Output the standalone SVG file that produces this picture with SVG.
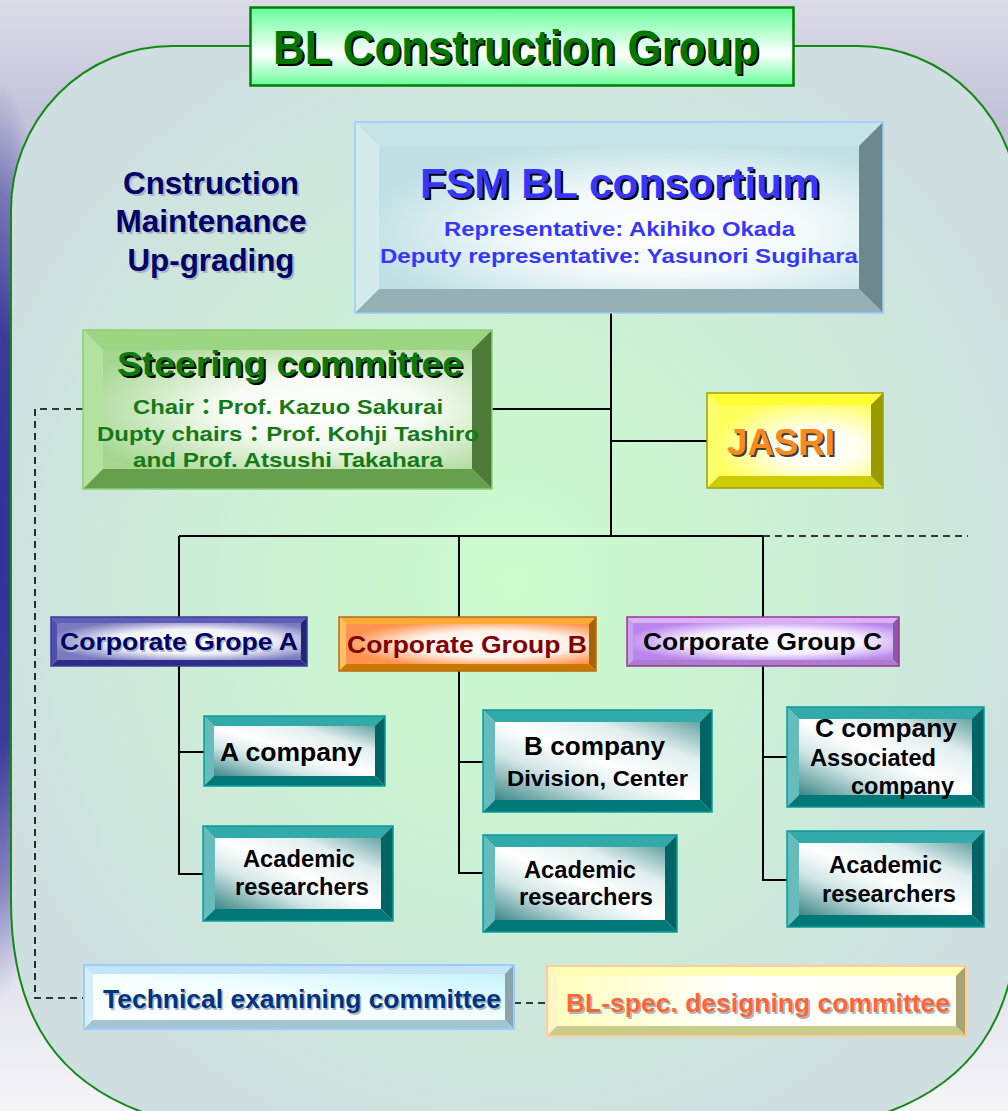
<svg xmlns="http://www.w3.org/2000/svg" width="1008" height="1111" viewBox="0 0 1008 1111">
  <defs>
    <style>
      text { font-family: "Liberation Sans", Arial, "Noto Sans CJK JP", sans-serif; font-weight: bold; }
      .narrow { font-family: "Liberation Sans Narrow", "Liberation Sans", Arial, sans-serif; }
      .mid { text-anchor: middle; }
      .shd { fill: #000; }
      .shl { fill: #a9b6c2; }
      .wire { fill: none; stroke: #000; stroke-width: 2; }
      .dash { fill: none; stroke: #000; stroke-width: 1.6; stroke-dasharray: 7 5; }
      .ol { fill: none; stroke-width: 1.5; }
      .fsm .bt { fill: #c6e3e7; } .fsm .bl { fill: #d4ebee; } .fsm .br { fill: #6e898d; } .fsm .bb { fill: #95b1b5; } .fsm .ol { stroke: #99ccff; }
      .steer .bt { fill: #9dd682; } .steer .bl { fill: #b3e2a0; } .steer .br { fill: #4d7a39; } .steer .bb { fill: #67a04d; } .steer .ol { stroke: #8ad07a; }
      .jasri .bt { fill: #ffff33; } .jasri .bl { fill: #ffff6a; } .jasri .br { fill: #999900; } .jasri .bb { fill: #cccc00; } .jasri .ol { stroke: #a0a000; }
      .grpA .bt { fill: #5e5eb6; } .grpA .bl { fill: #5050ac; } .grpA .br { fill: #24247a; } .grpA .bb { fill: #2d2d88; } .grpA .ol { stroke: #3b3b9e; }
      .grpB .bt { fill: #ffab35; } .grpB .bl { fill: #ffbf66; } .grpB .br { fill: #a86400; } .grpB .bb { fill: #cc7700; } .grpB .ol { stroke: #b96a10; }
      .grpC .bt { fill: #dcb0f5; } .grpC .bl { fill: #cda0ef; } .grpC .br { fill: #8a5aa2; } .grpC .bb { fill: #ab7dcd; } .grpC .ol { stroke: #993399; }
      .teal .bt { fill: #33aaaa; } .teal .bl { fill: #66bcbc; } .teal .br { fill: #006464; } .teal .bb { fill: #007878; } .teal .ol { stroke: #0a9a9a; }
      .tech .bt { fill: #c6e4f8; } .tech .bl { fill: #d6eefc; } .tech .br { fill: #8ca4ac; } .tech .bb { fill: #a4c4d2; } .tech .ol { stroke: #99ccff; stroke-width: 2; }
      .spec .bt { fill: #ffffb4; } .spec .bl { fill: #fff6c8; } .spec .br { fill: #aaa272; } .spec .bb { fill: #cccc8a; } .spec .ol { stroke: #ffcc99; stroke-width: 2; }
    </style>
    <linearGradient id="gPage" x1="0" y1="0" x2="0" y2="1">
      <stop offset="0" stop-color="#dcdce8"/>
      <stop offset="0.09" stop-color="#c6c6dc"/>
      <stop offset="0.2" stop-color="#b6b6d2"/>
      <stop offset="0.8" stop-color="#d8d8e8"/>
      <stop offset="1" stop-color="#f4f4f8"/>
    </linearGradient>
    <radialGradient id="gBlue">
      <stop offset="0" stop-color="#303098" stop-opacity="1"/>
      <stop offset="0.45" stop-color="#343499" stop-opacity="0.95"/>
      <stop offset="0.75" stop-color="#4a4aa4" stop-opacity="0.6"/>
      <stop offset="1" stop-color="#6060b0" stop-opacity="0"/>
    </radialGradient>
    <radialGradient id="gPanel" cx="0.5" cy="0.5" r="0.55">
      <stop offset="0" stop-color="#ccfbcc"/>
      <stop offset="0.4" stop-color="#cbf3d3"/>
      <stop offset="1" stop-color="#cfdfe1"/>
    </radialGradient>
    <linearGradient id="gTitle" x1="0" y1="0" x2="0" y2="1">
      <stop offset="0" stop-color="#66ff99"/>
      <stop offset="0.6" stop-color="#ffffff"/>
      <stop offset="1" stop-color="#66ff99"/>
    </linearGradient>
    <radialGradient id="gFsmFace" cx="0.6" cy="0.6" r="0.65">
      <stop offset="0" stop-color="#ffffff"/>
      <stop offset="0.45" stop-color="#f4fafb"/>
      <stop offset="1" stop-color="#bfe0e4"/>
    </radialGradient>
    <radialGradient id="gSteerFace" cx="0.6" cy="0.5" r="0.7">
      <stop offset="0" stop-color="#ffffff"/>
      <stop offset="0.4" stop-color="#f6fbf3"/>
      <stop offset="1" stop-color="#a4d690"/>
    </radialGradient>
    <radialGradient id="gJasriFace" cx="0.65" cy="0.6" r="0.7">
      <stop offset="0" stop-color="#ffffff"/>
      <stop offset="0.4" stop-color="#ffffee"/>
      <stop offset="1" stop-color="#ffff5a"/>
    </radialGradient>
    <radialGradient id="gAFace" cx="0.55" cy="0.5" r="0.6">
      <stop offset="0" stop-color="#ffffff"/>
      <stop offset="0.55" stop-color="#f2f2fa"/>
      <stop offset="1" stop-color="#7a7abf"/>
    </radialGradient>
    <radialGradient id="gBFace" cx="0.6" cy="0.5" r="0.6">
      <stop offset="0" stop-color="#ffffff"/>
      <stop offset="0.55" stop-color="#fff2ea"/>
      <stop offset="1" stop-color="#ff9450"/>
    </radialGradient>
    <radialGradient id="gCFace" cx="0.55" cy="0.5" r="0.6">
      <stop offset="0" stop-color="#ffffff"/>
      <stop offset="0.55" stop-color="#f7efff"/>
      <stop offset="1" stop-color="#b985ee"/>
    </radialGradient>
    <linearGradient id="gTealFace" x1="0" y1="1" x2="1" y2="0">
      <stop offset="0" stop-color="#3d8787"/>
      <stop offset="0.3" stop-color="#d2e6e6"/>
      <stop offset="0.5" stop-color="#ffffff"/>
      <stop offset="0.75" stop-color="#e2efef"/>
      <stop offset="1" stop-color="#68a3a3"/>
    </linearGradient>
    <linearGradient id="gTechFace" x1="0" y1="1" x2="1" y2="0">
      <stop offset="0" stop-color="#ffffff"/>
      <stop offset="0.5" stop-color="#f4ffff"/>
      <stop offset="1" stop-color="#c6f4fc"/>
    </linearGradient>
    <linearGradient id="gSpecFace" x1="0" y1="0" x2="1" y2="0">
      <stop offset="0" stop-color="#ffffbe"/>
      <stop offset="0.45" stop-color="#ffffff"/>
      <stop offset="1" stop-color="#fffff2"/>
    </linearGradient>
  </defs>

  <!-- page backdrop -->
  <rect width="1008" height="1111" fill="url(#gPage)"/>
  <ellipse cx="0" cy="540" rx="60" ry="460" fill="url(#gBlue)"/>

  <!-- group frame -->
  <path id="frame" d="M250,46 H172 A161,164 0 0 0 11,210 V900 C11,1020 60,1088 160,1118 H870 C970,1088 1019,1020 1019,900 V210 A161,164 0 0 0 858,46 H794" fill="url(#gPanel)" stroke="#138a13" stroke-width="2"/>

  <!-- connectors -->
  <g id="connectors">
    <path class="wire" d="M611,313 V536"/>
    <path class="wire" d="M492,409 H611"/>
    <path class="wire" d="M611,441 H707"/>
    <path class="wire" d="M179,536 H763"/>
    <path class="dash" d="M763,536 H968"/>
    <path class="wire" d="M179,536 V617"/>
    <path class="wire" d="M459,536 V617"/>
    <path class="wire" d="M763,536 V617"/>
    <path class="wire" d="M179,666 V874 H203"/>
    <path class="wire" d="M179,752 H204"/>
    <path class="wire" d="M459,671 V873 H483"/>
    <path class="wire" d="M459,762 H483"/>
    <path class="wire" d="M763,666 V880 H787"/>
    <path class="wire" d="M763,757 H787"/>
    <path class="dash" d="M83,409 H35 V998 H84"/>
    <path class="dash" d="M514,1003 H547"/>
  </g>

  <!-- title -->
  <g id="title">
    <rect x="250.5" y="7.5" width="543" height="78" fill="url(#gTitle)" stroke="#008000" stroke-width="2.5"/>
    <text class="narrow shd" x="275" y="66" font-size="49" textLength="486" lengthAdjust="spacingAndGlyphs">BL Construction Group</text>
    <text class="narrow" x="273" y="64" font-size="49" fill="#007800" textLength="486" lengthAdjust="spacingAndGlyphs">BL Construction Group</text>
  </g>

  <!-- activity list -->
  <g id="activities" font-size="31">
    <text class="mid shl" x="213" y="196" textLength="176" lengthAdjust="spacingAndGlyphs">Cnstruction</text>
    <text class="mid" x="211" y="194" fill="#000066" textLength="176" lengthAdjust="spacingAndGlyphs">Cnstruction</text>
    <text class="mid shl" x="213" y="234" textLength="191" lengthAdjust="spacingAndGlyphs">Maintenance</text>
    <text class="mid" x="211" y="232" fill="#000066" textLength="191" lengthAdjust="spacingAndGlyphs">Maintenance</text>
    <text class="mid shl" x="213" y="273" textLength="167" lengthAdjust="spacingAndGlyphs">Up-grading</text>
    <text class="mid" x="211" y="271" fill="#000066" textLength="167" lengthAdjust="spacingAndGlyphs">Up-grading</text>
  </g>

  <!-- FSM BL consortium -->
  <g id="fsm" class="fsm">
    <polygon class="bt" points="355,122 883,122 859,146 379,146"/>
    <polygon class="bl" points="355,122 379,146 379,289 355,313"/>
    <polygon class="br" points="883,122 883,313 859,289 859,146"/>
    <polygon class="bb" points="355,313 379,289 859,289 883,313"/>
    <rect x="379" y="146" width="480" height="143" fill="url(#gFsmFace)"/>
    <rect class="ol" x="355" y="122" width="528" height="191"/>
    <text class="mid shd" x="622" y="200" font-size="42" textLength="400" lengthAdjust="spacingAndGlyphs">FSM BL consortium</text>
    <text class="mid" x="620" y="198" font-size="42" fill="#3636ff" textLength="400" lengthAdjust="spacingAndGlyphs">FSM BL consortium</text>
    <text class="mid" x="619.5" y="236" font-size="21" fill="#3636ff" textLength="351" lengthAdjust="spacingAndGlyphs">Representative: Akihiko Okada</text>
    <text class="mid" x="619" y="263" font-size="21" fill="#3636ff" textLength="478" lengthAdjust="spacingAndGlyphs">Deputy representative: Yasunori Sugihara</text>
  </g>

  <!-- Steering committee -->
  <g id="steering" class="steer">
    <polygon class="bt" points="83,330 492,330 472,350 103,350"/>
    <polygon class="bl" points="83,330 103,350 103,469 83,489"/>
    <polygon class="br" points="492,330 492,489 472,469 472,350"/>
    <polygon class="bb" points="83,489 103,469 472,469 492,489"/>
    <rect x="103" y="350" width="369" height="119" fill="url(#gSteerFace)"/>
    <rect class="ol" x="83" y="330" width="409" height="159"/>
    <text class="mid shd" x="292" y="378" font-size="35" textLength="346" lengthAdjust="spacingAndGlyphs">Steering committee</text>
    <text class="mid" x="290" y="376" font-size="35" fill="#0a780a" textLength="346" lengthAdjust="spacingAndGlyphs">Steering committee</text>
    <text class="mid" x="288" y="414" font-size="21" fill="#157a15" textLength="310" lengthAdjust="spacingAndGlyphs">Chair：Prof. Kazuo Sakurai</text>
    <text class="mid" x="288" y="441" font-size="21" fill="#157a15" textLength="382" lengthAdjust="spacingAndGlyphs">Dupty chairs：Prof. Kohji Tashiro</text>
    <text class="mid" x="288" y="467" font-size="21" fill="#157a15" textLength="310" lengthAdjust="spacingAndGlyphs">and Prof. Atsushi Takahara</text>
  </g>

  <!-- JASRI -->
  <g id="jasri" class="jasri">
    <polygon class="bt" points="707,393 883,393 871,405 719,405"/>
    <polygon class="bl" points="707,393 719,405 719,476 707,488"/>
    <polygon class="br" points="883,393 883,488 871,476 871,405"/>
    <polygon class="bb" points="707,488 719,476 871,476 883,488"/>
    <rect x="719" y="405" width="152" height="71" fill="url(#gJasriFace)"/>
    <rect class="ol" x="707" y="393" width="176" height="95"/>
    <text class="shd" x="729" y="457" font-size="36" fill-opacity="0.75" textLength="108" lengthAdjust="spacingAndGlyphs">JASRI</text>
    <text x="727" y="455" font-size="36" fill="#fb8a1e" textLength="108" lengthAdjust="spacingAndGlyphs">JASRI</text>
  </g>

  <!-- Corporate group A -->
  <g id="groupA" class="grpA">
    <polygon class="bt" points="51,617 307,617 301,623 57,623"/>
    <polygon class="bl" points="51,617 57,623 57,660 51,666"/>
    <polygon class="br" points="307,617 307,666 301,660 301,623"/>
    <polygon class="bb" points="51,666 57,660 301,660 307,666"/>
    <rect x="57" y="623" width="244" height="37" fill="url(#gAFace)"/>
    <rect class="ol" x="51" y="617" width="256" height="49"/>
    <text class="mid shl" x="180.5" y="651.5" font-size="24" textLength="238" lengthAdjust="spacingAndGlyphs">Corporate Grope A</text>
    <text class="mid" x="179" y="650" font-size="24" fill="#000066" textLength="238" lengthAdjust="spacingAndGlyphs">Corporate Grope A</text>
  </g>

  <!-- Corporate group B -->
  <g id="groupB" class="grpB">
    <polygon class="bt" points="339,617 596,617 589,624 346,624"/>
    <polygon class="bl" points="339,617 346,624 346,664 339,671"/>
    <polygon class="br" points="596,617 596,671 589,664 589,624"/>
    <polygon class="bb" points="339,671 346,664 589,664 596,671"/>
    <rect x="346" y="624" width="243" height="40" fill="url(#gBFace)"/>
    <rect class="ol" x="339" y="617" width="257" height="54"/>
    <text class="mid" x="467" y="653" font-size="24" fill="#800000" textLength="240" lengthAdjust="spacingAndGlyphs">Corporate Group B</text>
  </g>

  <!-- Corporate group C -->
  <g id="groupC" class="grpC">
    <polygon class="bt" points="627,617 899,617 893,623 633,623"/>
    <polygon class="bl" points="627,617 633,623 633,660 627,666"/>
    <polygon class="br" points="899,617 899,666 893,660 893,623"/>
    <polygon class="bb" points="627,666 633,660 893,660 899,666"/>
    <rect x="633" y="623" width="260" height="37" fill="url(#gCFace)"/>
    <rect class="ol" x="627" y="617" width="272" height="49"/>
    <text class="mid" x="762.5" y="650" font-size="24" fill="#000" textLength="239" lengthAdjust="spacingAndGlyphs">Corporate Group C</text>
  </g>

  <!-- A company -->
  <g id="companyA" class="teal">
    <polygon class="bt" points="204,716 385,716 375,726 214,726"/>
    <polygon class="bl" points="204,716 214,726 214,776 204,786"/>
    <polygon class="br" points="385,716 385,786 375,776 375,726"/>
    <polygon class="bb" points="204,786 214,776 375,776 385,786"/>
    <rect x="214" y="726" width="161" height="50" fill="url(#gTealFace)"/>
    <rect class="ol" x="204" y="716" width="181" height="70"/>
    <text class="mid" x="291" y="761" font-size="26" fill="#000" textLength="142" lengthAdjust="spacingAndGlyphs">A company</text>
  </g>

  <!-- A academic researchers -->
  <g id="academicA" class="teal">
    <polygon class="bt" points="203,826 393,826 381,838 215,838"/>
    <polygon class="bl" points="203,826 215,838 215,909 203,921"/>
    <polygon class="br" points="393,826 393,921 381,909 381,838"/>
    <polygon class="bb" points="203,921 215,909 381,909 393,921"/>
    <rect x="215" y="838" width="166" height="71" fill="url(#gTealFace)"/>
    <rect class="ol" x="203" y="826" width="190" height="95"/>
    <text class="mid" x="299" y="867" font-size="24" fill="#000" textLength="112" lengthAdjust="spacingAndGlyphs">Academic</text>
    <text class="mid" x="302" y="895" font-size="24" fill="#000" textLength="134" lengthAdjust="spacingAndGlyphs">researchers</text>
  </g>

  <!-- B company -->
  <g id="companyB" class="teal">
    <polygon class="bt" points="483,710 712,710 700,722 495,722"/>
    <polygon class="bl" points="483,710 495,722 495,800 483,812"/>
    <polygon class="br" points="712,710 712,812 700,800 700,722"/>
    <polygon class="bb" points="483,812 495,800 700,800 712,812"/>
    <rect x="495" y="722" width="205" height="78" fill="url(#gTealFace)"/>
    <rect class="ol" x="483" y="710" width="229" height="102"/>
    <text class="mid" x="594.5" y="755" font-size="26" fill="#000" textLength="141" lengthAdjust="spacingAndGlyphs">B company</text>
    <text class="mid" x="597.5" y="786" font-size="22" fill="#000" textLength="181" lengthAdjust="spacingAndGlyphs">Division, Center</text>
  </g>

  <!-- B academic researchers -->
  <g id="academicB" class="teal">
    <polygon class="bt" points="483,835 677,835 665,847 495,847"/>
    <polygon class="bl" points="483,835 495,847 495,920 483,932"/>
    <polygon class="br" points="677,835 677,932 665,920 665,847"/>
    <polygon class="bb" points="483,932 495,920 665,920 677,932"/>
    <rect x="495" y="847" width="170" height="73" fill="url(#gTealFace)"/>
    <rect class="ol" x="483" y="835" width="194" height="97"/>
    <text class="mid" x="580" y="878" font-size="24" fill="#000" textLength="112" lengthAdjust="spacingAndGlyphs">Academic</text>
    <text class="mid" x="586" y="905" font-size="24" fill="#000" textLength="134" lengthAdjust="spacingAndGlyphs">researchers</text>
  </g>

  <!-- C company -->
  <g id="companyC" class="teal">
    <polygon class="bt" points="787,707 984,707 972,719 799,719"/>
    <polygon class="bl" points="787,707 799,719 799,795 787,807"/>
    <polygon class="br" points="984,707 984,807 972,795 972,719"/>
    <polygon class="bb" points="787,807 799,795 972,795 984,807"/>
    <rect x="799" y="719" width="173" height="76" fill="url(#gTealFace)"/>
    <rect class="ol" x="787" y="707" width="197" height="100"/>
    <text class="mid" x="886" y="737" font-size="26" fill="#000" textLength="142" lengthAdjust="spacingAndGlyphs">C company</text>
    <text class="mid" x="873" y="766" font-size="24" fill="#000" textLength="126" lengthAdjust="spacingAndGlyphs">Associated</text>
    <text class="mid" x="902.5" y="794" font-size="24" fill="#000" textLength="103" lengthAdjust="spacingAndGlyphs">company</text>
  </g>

  <!-- C academic researchers -->
  <g id="academicC" class="teal">
    <polygon class="bt" points="787,831 984,831 972,843 799,843"/>
    <polygon class="bl" points="787,831 799,843 799,915 787,927"/>
    <polygon class="br" points="984,831 984,927 972,915 972,843"/>
    <polygon class="bb" points="787,927 799,915 972,915 984,927"/>
    <rect x="799" y="843" width="173" height="72" fill="url(#gTealFace)"/>
    <rect class="ol" x="787" y="831" width="197" height="96"/>
    <text class="mid" x="885.5" y="873" font-size="24" fill="#000" textLength="113" lengthAdjust="spacingAndGlyphs">Academic</text>
    <text class="mid" x="889" y="902" font-size="24" fill="#000" textLength="134" lengthAdjust="spacingAndGlyphs">researchers</text>
  </g>

  <!-- Technical examining committee -->
  <g id="technical" class="tech">
    <polygon class="bt" points="84,965 514,965 505,974 93,974"/>
    <polygon class="bl" points="84,965 93,974 93,1020 84,1029"/>
    <polygon class="br" points="514,965 514,1029 505,1020 505,974"/>
    <polygon class="bb" points="84,1029 93,1020 505,1020 514,1029"/>
    <rect x="93" y="974" width="412" height="46" fill="url(#gTechFace)"/>
    <rect class="ol" x="84" y="965" width="430" height="64"/>
    <text class="narrow shl" x="104.5" y="1009.5" font-size="26" textLength="398" lengthAdjust="spacingAndGlyphs">Technical examining committee</text>
    <text class="narrow" x="103" y="1008" font-size="26" fill="#00337f" textLength="398" lengthAdjust="spacingAndGlyphs">Technical examining committee</text>
  </g>

  <!-- BL-spec. designing committee -->
  <g id="blspec" class="spec">
    <polygon class="bt" points="547,966 966,966 956,976 557,976"/>
    <polygon class="bl" points="547,966 557,976 557,1026 547,1036"/>
    <polygon class="br" points="966,966 966,1036 956,1026 956,976"/>
    <polygon class="bb" points="547,1036 557,1026 956,1026 966,1036"/>
    <rect x="557" y="976" width="399" height="50" fill="url(#gSpecFace)"/>
    <rect class="ol" x="547" y="966" width="419" height="70"/>
    <text class="narrow shl" x="567.5" y="1013.5" font-size="26" textLength="384" lengthAdjust="spacingAndGlyphs">BL-spec. designing committee</text>
    <text class="narrow" x="566" y="1012" font-size="26" fill="#ff6633" textLength="384" lengthAdjust="spacingAndGlyphs">BL-spec. designing committee</text>
  </g>
</svg>
